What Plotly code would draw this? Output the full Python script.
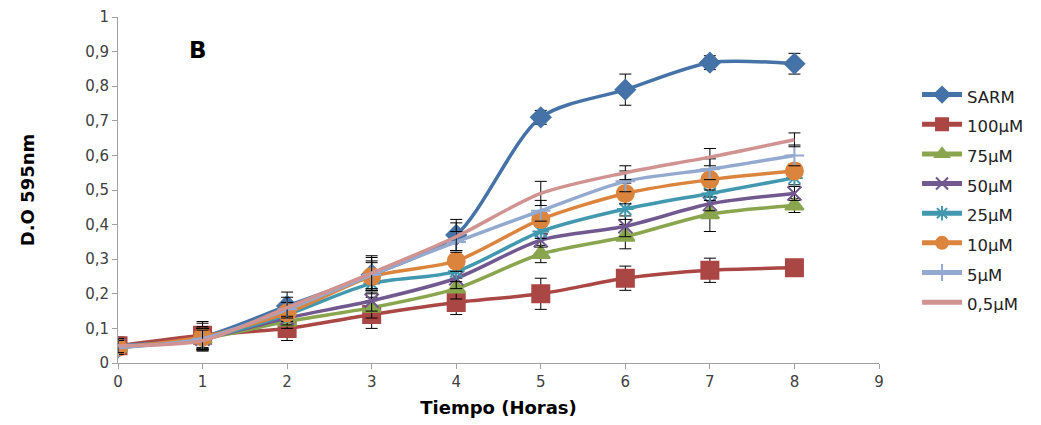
import plotly.graph_objects as go

hours = [0, 1, 2, 3, 4, 5, 6, 7, 8]
names = ["SARM", "100µM", "75µM", "50µM", "25µM", "10µM", "5µM", "0,5µM"]
sarm = [0.045, 0.075, 0.165, 0.255, 0.37, 0.71, 0.79, 0.868, 0.865]
c100 = [0.05, 0.08, 0.10, 0.14, 0.175, 0.20, 0.245, 0.268, 0.275]
c75 = [0.045, 0.07, 0.12, 0.16, 0.215, 0.315, 0.365, 0.43, 0.455]
c50 = [0.05, 0.07, 0.13, 0.18, 0.245, 0.355, 0.395, 0.46, 0.49]
c25 = [0.05, 0.07, 0.14, 0.23, 0.265, 0.38, 0.445, 0.49, 0.535]
c10 = [0.045, 0.075, 0.145, 0.25, 0.295, 0.415, 0.49, 0.53, 0.555]
c5 = [0.045, 0.07, 0.155, 0.255, 0.35, 0.44, 0.525, 0.56, 0.60]
c05 = [0.05, 0.065, 0.16, 0.26, 0.365, 0.49, 0.55, 0.595, 0.645]

e_sarm = [0.02, 0.04, 0.04, 0.05, 0.045, 0.02, 0.045, 0.02, 0.03]
e100 = [0.025, 0.04, 0.035, 0.04, 0.035, 0.045, 0.035, 0.035, 0.0]
e75 = [0.02, 0.03, 0.02, 0.03, 0.03, 0.025, 0.035, 0.05, 0.02]
e50 = [0.02, 0.03, 0.02, 0.03, 0.03, 0.02, 0.03, 0.02, 0.02]
e25 = [0.02, 0.03, 0.02, 0.03, 0.03, 0.02, 0.03, 0.02, 0.02]
e10 = [0.02, 0.03, 0.02, 0.04, 0.03, 0.02, 0.03, 0.03, 0.02]
e5 = [0.02, 0.03, 0.02, 0.04, 0.03, 0.03, 0.03, 0.03, 0.03]
e05 = [0.02, 0.03, 0.03, 0.05, 0.04, 0.035, 0.02, 0.025, 0.02]

series = [sarm, c100, c75, c50, c25, c10, c5, c05]
errors = [e_sarm, e100, e75, e50, e25, e10, e5, e05]
colors = ["#4572A7", "#AA4643", "#89A54E", "#71588F", "#4198AF", "#DB843D", "#93A9CF", "#D19392"]
symbols = ["diamond", "square", "triangle-up", "x-thin-open", "asterisk-open", "circle", "cross-thin-open", None]
sizes = [15, 17, 16, 14, 14, 17, 14, 0]

fig = go.Figure()
for nm, ys, er, col, sym, sz in zip(names, series, errors, colors, symbols, sizes):
    mk = dict(color=col, size=sz, line=dict(color=col, width=2))
    if sym is not None:
        mk["symbol"] = sym
    fig.add_trace(go.Scatter(
        x=hours, y=ys,
        name="<span style='font-size:16.5px'>" + nm + "</span>",
        mode="lines+markers" if sym else "lines",
        line=dict(color=col, width=3.5, shape="spline", smoothing=0.8),
        marker=mk,
        error_y=dict(type="data", array=er, visible=True, color="black", thickness=1, width=6),
    ))

fig.add_annotation(x=0.95, y=0.905, text="<b>B</b>", showarrow=False,
                   font=dict(family="DejaVu Sans", size=23, color="black"))

fig.update_layout(
    width=1041, height=425,
    margin=dict(l=110, r=170, t=9, b=70),
    paper_bgcolor="white", plot_bgcolor="white",
    separators=",.",
    font=dict(family="DejaVu Sans", size=15, color="#404040"),
    xaxis=dict(range=[0, 9], tickvals=list(range(10)), showgrid=False, zeroline=False,
               showline=True, linecolor="#A0A0A0", linewidth=1, ticks="outside",
               tickcolor="#A0A0A0", ticklen=5, automargin=False,
               title=dict(text="<b>Tiempo (Horas)</b>", font=dict(size=18, color="black"), standoff=11)),
    yaxis=dict(range=[0, 1], dtick=0.1, showgrid=False, zeroline=False,
               showline=True, linecolor="#A0A0A0", linewidth=1, ticks="outside",
               tickcolor="#A0A0A0", ticklen=5, automargin=False,
               title=dict(text="<b>D.O 595nm</b>", font=dict(size=18, color="black"), standoff=45)),
    legend=dict(x=1.05, y=0.833, xanchor="left", yanchor="top",
                font=dict(size=20.5, color="#222222"), tracegroupgap=0,
                itemwidth=40, itemsizing="constant", bgcolor="rgba(0,0,0,0)"),
    showlegend=True,
)

fig.write_html("out.html")
